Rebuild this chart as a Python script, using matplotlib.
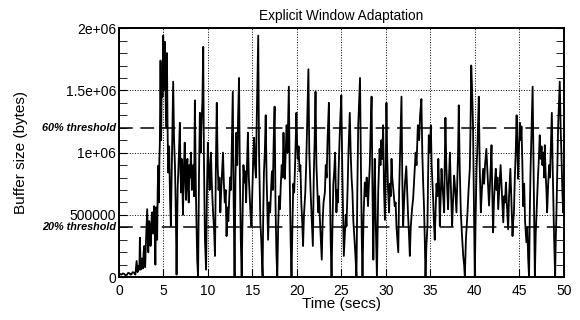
import matplotlib
matplotlib.use("Agg")
import matplotlib.pyplot as plt
from matplotlib.ticker import MultipleLocator

plt.rcParams['font.family'] = ['Liberation Sans', 'DejaVu Sans']

# buffer occupancy: time (s) and size (kbytes)
time_s = [
    0.0, 0.15, 0.3, 0.45, 0.6, 0.75, 0.9, 1.05, 1.2, 1.3, 1.4, 1.55, 1.7, 1.85, 1.99,
    2.1, 2.2, 2.3, 2.36, 2.45, 2.52, 2.6, 2.7, 2.78, 2.85, 2.95,
    3.05, 3.18, 3.25, 3.3, 3.4, 3.5, 3.55, 3.6, 3.68, 3.75, 3.8, 3.85, 3.92, 3.97,
    4.05, 4.1, 4.15, 4.2, 4.25, 4.3, 4.36, 4.42, 4.46, 4.5, 4.55, 4.6, 4.68, 4.72, 4.75, 4.82, 4.9, 4.98,
    5.05, 5.1, 5.17, 5.23, 5.3, 5.35, 5.4, 5.47, 5.54, 5.65, 5.75, 5.84, 5.95,
    6.1, 6.2, 6.3, 6.4, 6.48, 6.6, 6.75, 6.85, 6.92,
    7.0, 7.05, 7.1, 7.15, 7.2, 7.3, 7.4, 7.48, 7.55, 7.62, 7.7, 7.78, 7.85, 7.92,
    8.0, 8.1, 8.2, 8.28, 8.35, 8.45, 8.54, 8.65, 8.8, 8.9,
    9.0, 9.1, 9.15, 9.2, 9.25, 9.3, 9.38, 9.48, 9.55, 9.67, 9.8, 9.9,
    10.0, 10.1, 10.2, 10.28, 10.35, 10.42, 10.5, 10.6, 10.7, 10.8, 10.9,
    11.0, 11.1, 11.2, 11.3, 11.4, 11.5, 11.6, 11.7, 11.8, 11.9,
    12.0, 12.1, 12.2, 12.3, 12.4, 12.5, 12.6, 12.7, 12.8, 12.9,
    13.0, 13.1, 13.2, 13.3, 13.4, 13.5, 13.6, 13.7, 13.8, 13.9,
    14.0, 14.1, 14.2, 14.3, 14.4, 14.5, 14.6, 14.7, 14.8, 14.9,
    15.0, 15.1, 15.2, 15.3, 15.4, 15.5, 15.66, 15.75, 15.9,
    16.0, 16.15, 16.22, 16.3, 16.4, 16.5, 16.6, 16.77, 16.88,
    17.0, 17.1, 17.2, 17.3, 17.4, 17.5, 17.6, 17.7, 17.8, 17.9,
    18.0, 18.1, 18.2, 18.3, 18.4, 18.5, 18.58, 18.65, 18.75, 18.85, 18.95,
    19.1, 19.2, 19.3, 19.4, 19.5, 19.6, 19.7, 19.8, 19.95,
    20.02, 20.1, 20.2, 20.3, 20.4, 20.5, 20.6, 20.7, 20.8, 20.95,
    21.05, 21.15, 21.3, 21.4, 21.55, 21.65, 21.8, 21.9,
    22.0, 22.1, 22.2, 22.3, 22.4, 22.5, 22.6, 22.7, 22.8, 22.9,
    23.0, 23.15, 23.25, 23.35, 23.45, 23.6, 23.7, 23.8, 23.9,
    24.0, 24.1, 24.2, 24.3, 24.38, 24.45, 24.55, 24.62, 24.7, 24.8, 24.9,
    25.0, 25.1, 25.2, 25.28, 25.4, 25.5, 25.58, 25.7, 25.8, 25.95,
    26.05, 26.15, 26.25, 26.35, 26.5, 26.6, 26.7, 26.8, 26.9,
    27.0, 27.1, 27.2, 27.3, 27.38, 27.5, 27.64, 27.75, 27.85,
    28.0, 28.1, 28.2, 28.3, 28.4, 28.5, 28.6, 28.68, 28.76, 28.88,
    29.0, 29.15, 29.3, 29.4, 29.5, 29.6, 29.7, 29.8, 29.9,
    30.0, 30.07, 30.15, 30.25, 30.37, 30.45, 30.55, 30.64, 30.72, 30.85,
    31.0, 31.1, 31.2, 31.3, 31.4, 31.5, 31.6, 31.76, 31.85, 31.95,
    32.05, 32.15, 32.3, 32.4, 32.5, 32.6, 32.7, 32.8, 32.95,
    33.07, 33.2, 33.35, 33.45, 33.6, 33.75, 33.85,
    34.0, 34.1, 34.2, 34.3, 34.38, 34.46, 34.56, 34.68, 34.75, 34.83, 34.95,
    35.06, 35.15, 35.32, 35.4, 35.5, 35.6, 35.7, 35.8, 35.9,
    36.0, 36.07, 36.15, 36.26, 36.35, 36.45, 36.56, 36.62, 36.7, 36.8, 36.9,
    37.0, 37.1, 37.2, 37.3, 37.45, 37.55, 37.68, 37.8, 37.94,
    38.05, 38.12, 38.2, 38.3, 38.43, 38.55, 38.7, 38.8, 38.88,
    39.0, 39.18, 39.3, 39.44, 39.52, 39.6, 39.7, 39.8, 39.9,
    40.0, 40.1, 40.2, 40.32, 40.45, 40.55, 40.68, 40.8, 40.94,
    41.05, 41.15, 41.3, 41.45, 41.6, 41.7, 41.8, 41.88, 41.96,
    42.06, 42.15, 42.25, 42.36, 42.45, 42.55, 42.63, 42.75, 42.9,
    43.0, 43.1, 43.2, 43.3, 43.4, 43.5, 43.6, 43.75, 43.85,
    44.0, 44.1, 44.24, 44.32, 44.4, 44.5, 44.6, 44.7, 44.8, 44.87, 44.95,
    45.06, 45.15, 45.25, 45.35, 45.43, 45.55, 45.65, 45.8, 45.9,
    46.0, 46.1, 46.18, 46.26, 46.35, 46.5, 46.6, 46.67, 46.75, 46.85,
    47.0, 47.1, 47.2, 47.3, 47.4, 47.5, 47.6, 47.7, 47.8, 47.87, 47.95,
    48.05, 48.13, 48.25, 48.36, 48.45, 48.55, 48.66, 48.75, 48.9,
    49.03, 49.1, 49.18, 49.28, 49.37, 49.46, 49.55, 49.65, 49.74, 49.84, 49.93, 50.0,
]
buffer_kb = [
    15, 25, 20, 30, 25, 15, 18, 35, 30, 20, 22, 40, 35, 20, 130,
    40, 90, 60, 317, 60, 120, 150, 70, 200, 250, 80,
    300, 546, 350, 200, 450, 410, 250, 280, 480, 520, 380, 350, 500, 570,
    300, 100, 400, 560, 420, 300, 700, 895, 750, 600, 950, 1070, 1740, 1300, 1100, 1600, 1450, 1940,
    1500, 1700, 1890, 1550, 1200, 1500, 1800, 1200, 840, 1050, 620, 410, 900,
    1570, 1100, 900, 500, 20, 700, 1000, 1240, 850,
    680, 950, 900, 720, 500, 870, 1080, 760, 620, 880, 950, 700, 600, 900,
    800, 1000, 700, 820, 900, 650, 1420, 700, 140, 0,
    800, 1320, 1100, 1000, 1150, 1260, 1400, 1850, 1000, 300, 60, 700,
    1080, 850, 700, 900, 1000, 800, 650, 500, 380, 170, 900,
    1400, 900, 700, 800, 520, 700, 850, 1000, 750, 600,
    700, 330, 560, 450, 620, 800, 700, 1100, 1490, 600,
    0, 800, 1160, 900, 1300, 1600, 800, 300, 0, 500,
    900, 760, 850, 600, 900, 1160, 800, 650, 500, 410,
    700, 950, 1120, 900, 800, 1300, 1940, 1000, 440,
    300, 0, 500, 840, 1000, 1300, 800, 300, 600,
    520, 700, 850, 700, 1100, 1370, 600, 200, 0, 400,
    650, 546, 750, 900, 800, 1160, 900, 790, 1000, 1220, 1000,
    1530, 800, 300, 0, 400, 750, 680, 900, 1320,
    1100, 950, 1050, 850, 900, 600, 450, 250, 500, 680,
    900, 1200, 1670, 1000, 680, 500, 250, 800,
    1100, 1490, 900, 700, 520, 650, 450, 300, 140, 450,
    600, 680, 900, 800, 1100, 1400, 800, 300, 0,
    400, 750, 850, 1000, 700, 520, 700, 600, 870, 1100, 1300,
    1460, 900, 500, 170, 350, 500, 410, 700, 1000, 1320,
    1000, 800, 680, 450, 280, 150, 0, 700, 1220,
    1400, 1600, 900, 300, 0, 500, 760, 650, 800,
    570, 750, 900, 1200, 1450, 700, 140, 600, 950, 400,
    0, 700, 1030, 900, 1100, 950, 1220, 700, 460,
    900, 1400, 1000, 700, 520, 750, 650, 950, 800, 700,
    570, 600, 400, 300, 200, 700, 1000, 1450, 800, 410,
    600, 750, 890, 700, 500, 350, 170, 400, 550,
    630, 800, 1000, 900, 1220, 1100, 1300,
    1430, 1000, 750, 546, 300, 0, 250, 410, 800, 1140, 1000,
    1220, 900, 630, 450, 300, 550, 750, 650, 950,
    700, 410, 600, 870, 750, 650, 520, 900, 1280, 900, 700,
    546, 800, 1000, 750, 410, 600, 815, 700, 520,
    800, 1000, 1380, 900, 520, 350, 170, 100, 0,
    300, 520, 700, 870, 1200, 1700, 1500, 1220, 600,
    0, 500, 870, 1100, 1450, 900, 520, 700, 870,
    750, 900, 1030, 800, 575, 730, 900, 1060, 700,
    360, 600, 750, 870, 700, 800, 546, 700, 900,
    750, 600, 440, 650, 600, 760, 600, 384, 650,
    870, 650, 330, 450, 520, 800, 1000, 1300, 1000, 790, 1000,
    1240, 1100, 1210, 900, 570, 750, 450, 280, 400,
    150, 0, 500, 840, 1100, 1530, 900, 520, 0, 350,
    620, 800, 950, 1140, 950, 1050, 900, 1000, 800, 1060, 850,
    700, 520, 750, 900, 800, 1050, 1320, 900, 360,
    0, 300, 520, 900, 1220, 1400, 1570, 1200, 980, 700, 520, 700,
]

buffer_max = 2e6
thresholds = [(0.6, "60% threshold"), (0.2, "20% threshold")]
y_ticks = [0, 500000, 1000000, 1500000, 2000000]
y_tick_labels = ["0", "500000", "1e+06", "1.5e+06", "2e+06"]

fig = plt.figure(figsize=(5.8, 3.2), dpi=100)
ax = fig.add_axes([0.205, 0.134, 0.767, 0.778])

ax.plot(time_s, [v * 1000 for v in buffer_kb], color='black', lw=1.3)

for frac, label in thresholds:
    ax.axhline(frac * buffer_max, color='black', lw=1.1, ls=(0, (9, 5)))
    ax.text(-0.006, frac * buffer_max, label, transform=ax.get_yaxis_transform(),
            ha='right', va='center', fontsize=7.8, fontweight='bold', fontstyle='italic')

ax.set_xlim(0, 50)
ax.set_ylim(0, buffer_max)
ax.xaxis.set_major_locator(MultipleLocator(5))
ax.set_yticks(y_ticks)
ax.set_yticklabels(y_tick_labels)
ax.yaxis.set_minor_locator(MultipleLocator(100000))
ax.tick_params(direction='in', which='both', right=True, top=False, labelsize=10)
ax.tick_params(axis='y', pad=2)
ax.tick_params(axis='x', pad=5)
ax.tick_params(which='both', length=6)
ax.grid(True, which='major', color='black', ls=':', lw=0.7)

for s in ax.spines.values():
    s.set_linewidth(1.4)

ax.set_title("Explicit Window Adaptation", fontsize=9.8, pad=6)
ax.set_xlabel("Time (secs)", fontsize=11, labelpad=-1)
ax.set_ylabel("Buffer size (bytes)", fontsize=11)
ax.yaxis.set_label_coords(-0.205, 0.5)

fig.savefig("out.png", dpi=100)
